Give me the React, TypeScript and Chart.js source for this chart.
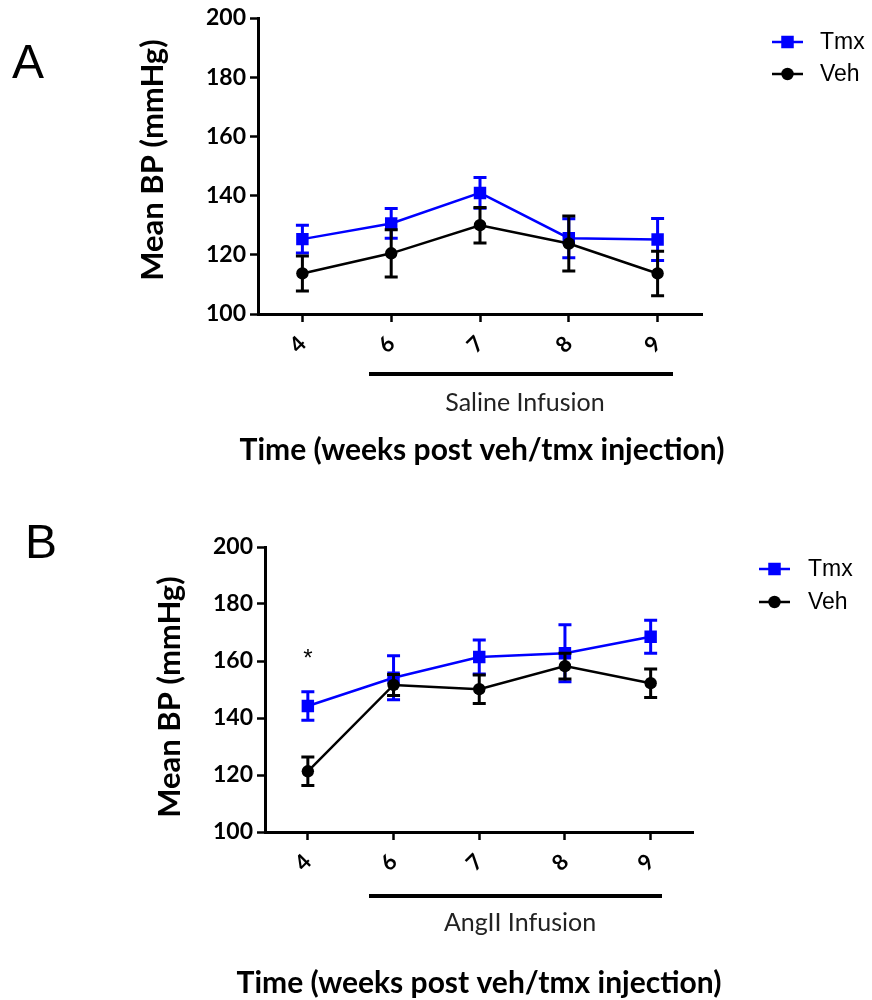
import React, { useEffect, useRef } from 'react';
import { Chart, registerables } from 'chart.js';

Chart.register(...registerables);

// ---- data ----
const weeks = ['4', '6', '7', '8', '9'];
const seriesNames = ['Tmx', 'Veh'];
const seriesColors = ['#0000FF', '#000000'];

const salineTmx = [125.3, 130.6, 140.9, 125.6, 125.2];
const salineTmxErr = [4.7, 5.0, 5.2, 6.6, 7.1];
const salineVeh = [113.7, 120.5, 130.0, 123.8, 113.7];
const salineVehErr = [5.9, 8.0, 6.0, 9.3, 7.5];

const angTmx = [144.2, 154.1, 161.4, 162.7, 168.5];
const angTmxErr = [5.0, 7.7, 6.0, 10.0, 5.8];
const angVeh = [121.3, 151.6, 150.1, 158.2, 152.2];
const angVehErr = [5.0, 3.7, 5.0, 4.5, 5.0];

const yMin = 100;
const yMax = 200;
const yStep = 20;

const yTitle = 'Mean BP (mmHg)';
const xTitle = 'Time (weeks post veh/tmx injection)';

// significance mark (panel B, week 4)
const starIndex = 0;
const starValue = 162;

type PanelCfg = {
  letter: string;
  tmx: number[];
  tmxErr: number[];
  veh: number[];
  vehErr: number[];
  infusion: string;
  star: boolean;
  area: { left: number; top: number; right: number; bottom: number };
  letterPos: [number, number];
  yTitlePos: [number, number];
  xTitlePos: [number, number];
  barX: [number, number];
  barY: number;
  infPos: [number, number];
  legX: [number, number, number];
  legY: [number, number];
};

const panelA: PanelCfg = {
  letter: 'A',
  tmx: salineTmx,
  tmxErr: salineTmxErr,
  veh: salineVeh,
  vehErr: salineVehErr,
  infusion: 'Saline Infusion',
  star: false,
  area: { left: 258, top: 18, right: 702, bottom: 314 },
  letterPos: [12, 78],
  yTitlePos: [153, 160],
  xTitlePos: [482, 450],
  barX: [369, 673],
  barY: 374,
  infPos: [525, 403],
  legX: [772, 803, 820],
  legY: [42, 74],
};

const panelB: PanelCfg = {
  letter: 'B',
  tmx: angTmx,
  tmxErr: angTmxErr,
  veh: angVeh,
  vehErr: angVehErr,
  infusion: 'AngII Infusion',
  star: true,
  area: { left: 265, top: 47, right: 693.5, bottom: 332 },
  letterPos: [25, 58],
  yTitlePos: [170, 197],
  xTitlePos: [479, 483],
  barX: [369, 662],
  barY: 396,
  infPos: [520, 423],
  legX: [759, 790, 808],
  legY: [69, 102],
};

const W = 872;
const H = 500;
const Y_SCALE_W = 100;
const X_SCALE_H = 60;

function drawMarker(ctx: CanvasRenderingContext2D, kind: number, x: number, y: number, color: string) {
  ctx.fillStyle = color;
  if (kind === 0) {
    const s = 12.5;
    ctx.fillRect(x - s / 2, y - s / 2, s, s);
  } else {
    ctx.beginPath();
    ctx.arc(x, y, 6.2, 0, Math.PI * 2);
    ctx.fill();
  }
}

function Panel({ cfg, top }: { cfg: PanelCfg; top: number }) {
  const ref = useRef<HTMLCanvasElement>(null);

  useEffect(() => {
    if (!ref.current) return;
    const errs = [cfg.tmxErr, cfg.vehErr];

    const extras = {
      id: 'extras' + cfg.letter,
      beforeDatasetDraw(chart: any, args: any) {
        const ctx: CanvasRenderingContext2D = chart.ctx;
        const ys = chart.scales.y;
        const ds = chart.data.datasets[args.index];
        const e = errs[args.index];
        ctx.save();
        ctx.strokeStyle = ds.borderColor;
        ctx.lineWidth = 3;
        args.meta.data.forEach((pt: any, i: number) => {
          const v = ds.data[i] as number;
          const yt = ys.getPixelForValue(v + e[i]);
          const yb = ys.getPixelForValue(v - e[i]);
          const x = pt.x;
          ctx.beginPath();
          ctx.moveTo(x, yt);
          ctx.lineTo(x, yb);
          ctx.moveTo(x - 6.5, yt);
          ctx.lineTo(x + 6.5, yt);
          ctx.moveTo(x - 6.5, yb);
          ctx.lineTo(x + 6.5, yb);
          ctx.stroke();
        });
        ctx.restore();
      },
      afterDraw(chart: any) {
        const ctx: CanvasRenderingContext2D = chart.ctx;
        ctx.save();
        // panel letter
        ctx.fillStyle = '#000';
        ctx.font = '48px "Liberation Sans", Arial, sans-serif';
        ctx.textAlign = 'left';
        ctx.textBaseline = 'alphabetic';
        ctx.fillText(cfg.letter, cfg.letterPos[0], cfg.letterPos[1]);

        // y title
        ctx.save();
        ctx.translate(cfg.yTitlePos[0], cfg.yTitlePos[1]);
        ctx.rotate(-Math.PI / 2);
        ctx.font = 'bold 31px Lato, sans-serif';
        ctx.textAlign = 'center';
        ctx.textBaseline = 'middle';
        ctx.fillText(yTitle, 0, 0);
        ctx.restore();

        // infusion bar + label
        ctx.strokeStyle = '#000';
        ctx.lineWidth = 4;
        ctx.beginPath();
        ctx.moveTo(cfg.barX[0], cfg.barY);
        ctx.lineTo(cfg.barX[1], cfg.barY);
        ctx.stroke();
        ctx.fillStyle = '#222';
        ctx.font = '25px Lato, sans-serif';
        ctx.textAlign = 'center';
        ctx.textBaseline = 'middle';
        ctx.fillText(cfg.infusion, cfg.infPos[0], cfg.infPos[1]);

        // x title
        ctx.fillStyle = '#000';
        ctx.font = 'bold 30px Lato, sans-serif';
        ctx.fillText(xTitle, cfg.xTitlePos[0], cfg.xTitlePos[1]);

        // star
        if (cfg.star) {
          const xs = chart.scales.x;
          const ys = chart.scales.y;
          ctx.font = '24px "Liberation Sans", Arial, sans-serif';
          ctx.fillText('*', xs.getPixelForValue(starIndex), ys.getPixelForValue(starValue) + 4);
        }

        // legend
        seriesNames.forEach((name, k) => {
          const y = cfg.legY[k];
          ctx.strokeStyle = seriesColors[k];
          ctx.lineWidth = 2.5;
          ctx.beginPath();
          ctx.moveTo(cfg.legX[0], y);
          ctx.lineTo(cfg.legX[1], y);
          ctx.stroke();
          drawMarker(ctx, k, (cfg.legX[0] + cfg.legX[1]) / 2, y, seriesColors[k]);
          ctx.fillStyle = '#000';
          ctx.font = '23px "Liberation Sans", Arial, sans-serif';
          ctx.textAlign = 'left';
          ctx.textBaseline = 'middle';
          ctx.fillText(name, cfg.legX[2], y + 1);
        });
        ctx.restore();
      },
    };

    const a = cfg.area;
    const chart = new Chart(ref.current, {
      type: 'line',
      data: {
        labels: weeks,
        datasets: [
          {
            label: seriesNames[0],
            data: cfg.tmx,
            borderColor: seriesColors[0],
            backgroundColor: seriesColors[0],
            borderWidth: 2.5,
            pointStyle: 'rect',
            pointRadius: 8.8,
            pointBorderWidth: 0,
            tension: 0,
            order: 1,
          },
          {
            label: seriesNames[1],
            data: cfg.veh,
            borderColor: seriesColors[1],
            backgroundColor: seriesColors[1],
            borderWidth: 2.5,
            pointStyle: 'circle',
            pointRadius: 6.2,
            pointBorderWidth: 0,
            tension: 0,
            order: 0,
          },
        ],
      },
      options: {
        responsive: false,
        animation: false,
        devicePixelRatio: 1,
        layout: {
          padding: {
            left: a.left - Y_SCALE_W,
            top: a.top,
            right: W - a.right,
            bottom: H - a.bottom - X_SCALE_H,
          },
        },
        plugins: {
          legend: { display: false },
          tooltip: { enabled: false },
          title: { display: false },
        },
        scales: {
          x: {
            type: 'category',
            offset: true,
            grid: {
              display: true,
              drawOnChartArea: false,
              drawTicks: true,
              tickLength: 8,
              tickWidth: 2.5,
              tickColor: '#000',
              color: '#000',
            },
            border: { display: true, color: '#000', width: 3 },
            ticks: {
              color: '#000',
              font: { family: 'Lato', weight: 'bold', size: 22 },
              minRotation: 45,
              maxRotation: 45,
              padding: 9,
            },
            afterFit: (s: any) => {
              s.height = X_SCALE_H;
            },
          },
          y: {
            min: yMin,
            max: yMax,
            grid: {
              display: true,
              drawOnChartArea: false,
              drawTicks: true,
              tickLength: 8,
              tickWidth: 2.5,
              tickColor: '#000',
              color: '#000',
            },
            border: { display: true, color: '#000', width: 3 },
            ticks: {
              stepSize: yStep,
              color: '#000',
              font: { family: 'Lato', weight: 'bold', size: 23 },
              padding: 4,
            },
            afterFit: (s: any) => {
              s.width = Y_SCALE_W;
            },
          },
        },
      },
      plugins: [extras],
    } as any);

    return () => chart.destroy();
  }, [cfg]);

  return (
    <canvas
      ref={ref}
      width={W}
      height={H}
      style={{ position: 'absolute', left: 0, top, width: W, height: H }}
    />
  );
}

export default function App() {
  return (
    <div style={{ position: 'absolute', left: 0, top: 0, width: W, height: 1000, background: '#fff' }}>
      <Panel cfg={panelA} top={0} />
      <Panel cfg={panelB} top={500} />
    </div>
  );
}
